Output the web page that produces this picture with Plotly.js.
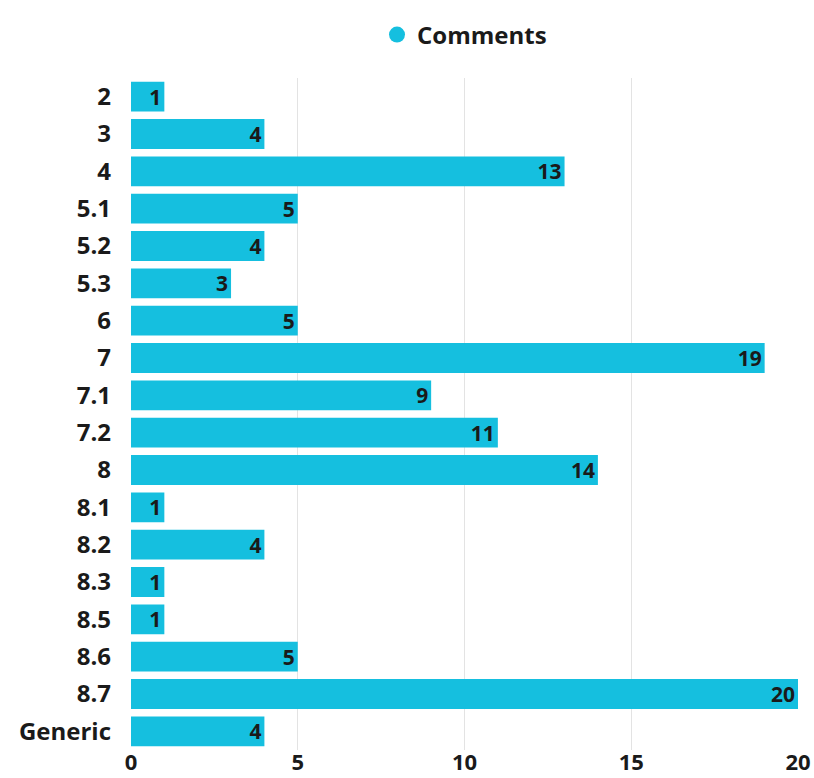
<!DOCTYPE html>
<html>
<head>
<meta charset="utf-8">
<script src="https://cdn.plot.ly/plotly-3.0.1.min.js"></script>
<style>html,body{margin:0;padding:0;background:#fff;}#chart{width:814px;height:778px;}</style>
</head>
<body>
<div id="chart"></div>
<script>
const categories = ["2","3","4","5.1","5.2","5.3","6","7","7.1","7.2","8","8.1","8.2","8.3","8.5","8.6","8.7","Generic"];
const comments = [1,4,13,5,4,3,5,19,9,11,14,1,4,1,1,5,20,4];
const tickVals = [0,5,10,15,20];

const barColor = "#15bfdf";
const font = "Open Sans, sans-serif";

const traces = [
  {
    type: "bar",
    orientation: "h",
    y: categories,
    x: comments,
    name: "Comments",
    showlegend: false,
    marker: {color: barColor},
    text: comments.map(String),
    textposition: "inside",
    insidetextanchor: "end",
    textangle: 0,
    constraintext: "none",
    textfont: {family: font, size: 21, color: "#1a1a1a", weight: 700},
    cliponaxis: false,
    hoverinfo: "x+y"
  },
  {
    type: "scatter",
    mode: "markers",
    x: [null],
    y: [null],
    name: "Comments",
    marker: {color: barColor, size: 26, symbol: "circle"},
    showlegend: true
  }
];

const layout = {
  width: 814,
  height: 778,
  margin: {l: 131, r: 16, t: 75, b: 28},
  paper_bgcolor: "#fff",
  plot_bgcolor: "#fff",
  font: {family: font, size: 22, color: "#1a1a1a", weight: 700},
  bargap: 0.2,
  showlegend: true,
  legend: {
    orientation: "h",
    x: 0.5, xanchor: "center",
    y: 1.064, yanchor: "middle",
    font: {family: font, size: 24, color: "#1a1a1a", weight: 700},
    itemsizing: "trace",
    bgcolor: "rgba(0,0,0,0)"
  },
  xaxis: {
    range: [0, 20],
    tickvals: tickVals,
    ticktext: tickVals.map(String),
    showgrid: true,
    gridcolor: "#e3e3e3",
    gridwidth: 1,
    zeroline: false,
    showline: false,
    ticks: "",
    ticklabelstandoff: -3,
    tickfont: {family: font, size: 22, color: "#1a1a1a", weight: 700},
    fixedrange: true
  },
  yaxis: {
    type: "category",
    categoryorder: "array",
    categoryarray: categories,
    autorange: "reversed",
    showgrid: false,
    zeroline: false,
    ticks: "",
    ticklabelstandoff: 19,
    tickfont: {family: font, size: 24, color: "#1a1a1a", weight: 700},
    fixedrange: true
  }
};

Plotly.newPlot("chart", traces, layout, {displayModeBar: false, staticPlot: true});
</script>
</body>
</html>
